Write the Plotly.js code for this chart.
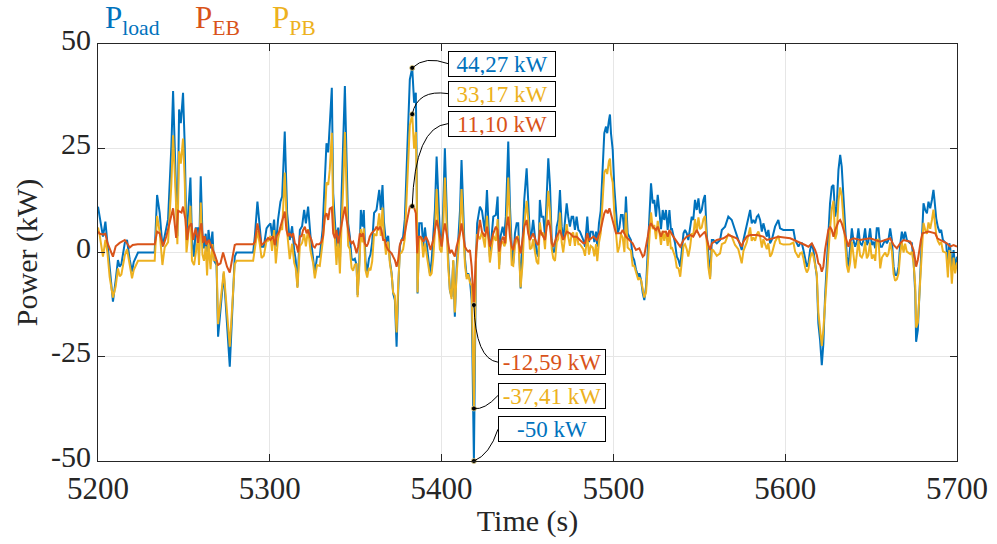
<!DOCTYPE html>
<html>
<head>
<meta charset="utf-8">
<script src="https://cdn.plot.ly/plotly-3.0.1.min.js"></script>
<style>html,body{margin:0;padding:0;background:#fff;}#chart{width:997px;height:544px;}</style>
</head>
<body>
<div id="chart"></div>
<script>
// Time base (s) shared by P_load and P_PB
const tLoad = [
5200.0,5201.0,5202.9,5204.3,5205.5,5206.8,5208.7,5210.3,5211.6,5212.6,
5213.6,5215.6,5216.9,5218.5,5219.8,5220.8,5223.3,5233.0,5234.4,5235.9,
5237.5,5238.8,5240.8,5242.7,5243.7,5245.3,5246.2,5247.2,5248.2,5249.5,
5250.5,5251.5,5252.4,5253.8,5254.7,5255.9,5256.9,5258.2,5258.8,5259.8,
5260.8,5261.7,5262.7,5263.5,5264.3,5265.5,5266.6,5267.4,5269.0,5269.9,
5273.2,5276.7,5279.6,5280.6,5290.3,5291.3,5292.8,5294.2,5295.2,5296.5,
5298.1,5299.0,5300.4,5301.3,5302.5,5303.5,5304.8,5306.2,5307.2,5308.7,
5310.1,5311.6,5313.0,5314.2,5315.1,5316.1,5317.5,5318.8,5320.0,5321.0,
5322.3,5323.7,5325.2,5326.2,5327.5,5329.1,5330.7,5332.0,5333.0,5334.0,
5334.9,5336.1,5336.9,5337.9,5338.8,5339.8,5340.8,5341.8,5342.7,5343.7,
5344.7,5345.6,5346.6,5347.6,5348.5,5349.5,5350.5,5351.1,5352.0,5353.0,
5354.0,5354.7,5355.7,5356.7,5357.7,5358.6,5359.6,5360.7,5362.1,5363.7,
5364.6,5365.6,5366.4,5367.6,5368.9,5369.9,5370.9,5371.8,5372.8,5373.8,
5374.7,5375.7,5376.7,5377.6,5378.6,5380.5,5381.5,5382.9,5384.0,5385.0,
5385.4,5386.0,5387.0,5388.4,5389.3,5390.3,5391.6,5393.2,5394.2,5395.1,
5396.1,5397.1,5398.0,5399.0,5400.0,5400.9,5401.9,5402.9,5403.8,5404.8,
5405.8,5406.8,5407.7,5408.7,5409.7,5410.7,5411.6,5412.6,5413.6,5414.6,
5415.5,5416.5,5417.5,5418.8,5420.0,5420.7,5422.3,5423.5,5425.2,5426.4,
5428.1,5429.1,5430.1,5431.6,5432.6,5433.5,5434.4,5435.5,5436.5,5437.4,
5438.8,5439.8,5440.8,5441.7,5442.7,5443.7,5444.6,5446.0,5447.2,5448.1,
5449.5,5450.4,5451.4,5452.4,5453.3,5454.3,5455.3,5456.3,5457.2,5458.2,
5459.2,5460.2,5461.2,5462.1,5463.1,5464.1,5465.0,5466.0,5467.0,5467.9,
5468.9,5469.9,5470.8,5471.8,5472.8,5473.7,5474.7,5475.7,5476.6,5477.6,
5478.6,5479.6,5480.5,5482.5,5483.5,5484.8,5485.8,5486.8,5488.0,5488.9,
5489.9,5490.6,5491.6,5492.6,5493.8,5494.7,5495.7,5496.4,5497.4,5498.0,
5498.6,5499.6,5500.5,5501.5,5502.5,5503.5,5504.4,5505.4,5506.4,5507.3,
5508.3,5509.2,5510.2,5511.2,5512.1,5513.1,5514.5,5515.1,5516.1,5517.1,
5518.0,5519.0,5520.0,5520.9,5521.9,5522.9,5523.8,5524.8,5525.8,5526.7,
5527.7,5528.7,5529.6,5530.6,5531.6,5532.6,5533.5,5534.0,5534.9,5535.9,
5536.9,5537.9,5538.9,5539.8,5540.8,5541.7,5542.7,5543.6,5544.6,5545.6,
5546.5,5547.5,5548.5,5549.5,5550.4,5551.4,5552.4,5553.3,5554.3,5555.3,
5556.3,5557.3,5558.2,5560.2,5562.1,5563.1,5565.0,5566.9,5568.9,5570.8,
5572.7,5574.7,5575.7,5577.6,5579.6,5580.5,5581.5,5582.5,5583.5,5584.4,
5585.4,5586.4,5587.3,5588.3,5589.3,5590.2,5591.2,5592.2,5593.1,5594.1,
5596.0,5597.0,5598.9,5600.9,5602.9,5604.8,5605.8,5606.7,5607.7,5608.7,
5609.7,5610.6,5611.6,5612.6,5613.5,5614.5,5615.5,5616.4,5617.4,5618.4,
5619.3,5620.3,5621.3,5622.2,5623.2,5624.2,5625.1,5626.1,5627.1,5628.1,
5629.1,5630.0,5631.0,5632.0,5632.9,5633.9,5634.9,5635.9,5636.8,5637.8,
5638.8,5639.7,5640.7,5641.7,5642.6,5643.6,5644.6,5645.6,5646.5,5647.5,
5648.4,5649.4,5650.4,5651.4,5652.4,5653.3,5654.3,5655.3,5656.3,5657.2,
5658.2,5659.2,5660.1,5661.1,5662.1,5663.1,5664.0,5665.0,5666.0,5666.9,
5667.9,5668.9,5669.8,5670.8,5672.8,5673.7,5674.7,5675.7,5676.2,5677.2,
5678.0,5679.0,5679.9,5680.5,5681.5,5682.5,5683.4,5684.4,5685.4,5686.3,
5686.9,5687.9,5688.8,5689.8,5690.8,5691.8,5692.7,5693.7,5694.7,5695.5,
5696.0,5697.0,5698.0,5698.9,5700.0
];
// P_load (kW)
const pLoad = [
11,8.6,3.8,7.4,2.3,-4.9,-11.8,-6.6,-1.8,-3.4,
-2.8,2.3,3.0,-1.8,-4.6,-2.3,0,0,13.8,9.5,
1.4,3.9,8,25.4,38.7,16.5,3.9,34.3,31,38.3,
25.4,3,8,18,3,-1,5.8,5.8,-1,18.3,
4.5,1,4.5,-2,5.4,1,5,-1.8,-3,-20.2,
-5,-27.4,-1,0,0,3.9,12.2,5.8,1.4,1.4,
5.8,6.3,7,3.9,7.9,1.4,7.9,12.2,13.4,29,
9.4,3,6.3,0.5,-1.8,-8.2,5.4,6.3,10.2,7,
11,3.9,-1,-5,-1,-1,5.4,16.8,26.2,24,
30.3,39.5,14.2,7,1.4,6,-2.6,14,24,39.9,
22.2,7,3.8,-1.5,-1.8,-1.5,-3,-10.2,-3,10.2,
6.2,10.2,-2,-4.6,-1.5,-0.5,2.5,9.5,10.2,15,
10.2,16.2,7.5,2.5,4,-2,-5,-9.8,-11.4,-22.6,
-9.8,1.5,3,3.8,8,30,41.5,44.27,35.9,38.3,
25,-9.8,7,7,1.4,6,1.4,-5,-2,3,
10.2,23,13,4.6,1.4,10.2,25,9.4,-1,-9,
-10.6,-2,-15.4,-4,4,10,22.2,7.5,-1.5,-5.8,
-5,-6.6,-11.4,-50,-2,7,11,10,5,15,
-1,3.8,8.6,9,13.4,-3,4,6.2,4,8.6,
26.6,11,1.5,-2.6,4.6,7,7,-8.6,1.5,12.6,
20.2,12.6,3.8,4.6,7.8,3.8,0,-1,12.6,8.6,
8.6,3.8,14,22.6,16,3,0,0.5,6.2,7.8,
15,6.2,3,7,11.8,8.6,6.2,8.6,8.6,5.4,
8.6,5.4,5,3,1.4,8.6,2.5,5,5,2.5,
5,1.4,7,10,20.6,28.6,30.2,28.6,31.7,33.1,
28.6,24.6,15.8,10,4.6,6,9,9,4.6,13.4,
4.6,3.8,3,-1,-1.8,-4,-5.8,-5,-6.6,-9.8,
-11.4,-8.2,0.6,9.8,16.6,11.8,12.6,8.6,13.8,10.2,
5.6,10.2,7.8,10.2,5.4,10.2,5.4,5.8,3.8,2.2,
-1,-1.8,-3.4,0.6,4.6,5.4,4.6,3,5.4,8.6,
7.8,12.6,10.2,13,9.4,10.2,12.6,13.8,4.6,-1.8,
-5.8,3,3,2.2,3,5.4,6.2,8.6,7.8,5.4,
3,0.6,3,6.2,10.2,7,7.8,7,8.6,9,
7.8,5,7,5.4,3.8,5.4,2.2,3,4.6,6.2,
7.8,5.8,5.4,5.4,5.4,5.4,3,2.2,1.4,2.2,
2.2,0.6,-1.8,-3.4,-2.6,0.6,2.2,0.6,-2.6,-5.8,
-17,-21,-27,-22,-10.6,-2.6,5,11.8,15.8,16.2,
8.6,11,19.8,23.4,20.6,13.4,7,-1,-3.4,0.6,
5.8,3,1.4,2.6,5.8,2.2,1.8,3,5.8,1.8,
2.6,5.8,1.8,2.6,1,5.8,5.8,1.4,1.4,2.2,
3,2.2,3,5.8,3,-3.4,-5.4,-5.4,-3.4,1.8,
5,3,5,3,2.2,2.2,-1.8,-9.8,-21.4,-18.6,
-9.8,-1.8,6.2,11.8,10.2,9.4,12.2,10.6,12.6,15,
12.6,8.2,6.2,5,5.4,3,2.6,2.2,-3.4,2.2,
1.4,-4.2,0.6,-3.4,-1
];
// P_PB (kW), same time base
const pPB = [
6,4.1,-1,3,0,-5.9,-10.8,-8.1,-3.8,-5.7,
-5.3,-0.7,0.8,-3,-6.2,-4.2,-2,-2,8.8,4.9,
-3,1.2,2.5,16.4,28.1,13,2,24.3,21.3,27.3,
16.9,0,3.5,11.2,-2,-3,0,3.5,-3,12,
-0.5,-2,1.5,-5.5,2.6,-4,2,-1.8,-2,-17.2,
-4.5,-22.6,-2.8,-2,-2,1.4,5.2,1.9,-1.3,-0.8,
2.8,2.8,4,0.4,5.4,-2.6,3.3,6,5.4,19.2,
4.9,-1.6,2.1,-2.5,-3.8,-8.5,1.5,2.3,4.4,1.5,
5.6,0.4,-2.5,-6.2,-3,-3.2,2.2,8.2,16.8,16.2,
19.8,28.7,9.6,3.6,-3,3.8,-5,7,15.4,28.9,
14.4,1.6,0.8,-3.7,-4.4,-2.9,-2.8,-10.7,-4.4,5.6,
2.4,5.8,-4.2,-6,-3.7,-4.3,-2.1,4.5,4,9.4,
4,10.8,4.5,-0.5,2.6,-2.6,-5.2,-9.6,-10.4,-19.2,
-8,-0.3,0,0.8,3.4,20.6,30.5,33.17,24.9,28.9,
20,-9.6,3.2,3.4,-1.2,2.2,-1.2,-5.6,-5,-1.5,
4.8,15.2,6.8,0.8,0,5.6,18,4.8,-3.2,-8.8,
-11.2,-1.8,-14.4,-5.4,1,5.4,15.2,3.7,-2.9,-6.4,
-5.2,-7.2,-8,-37.41,-2,4.4,3.2,5,1.2,8.8,
-2.4,0.8,4,2.8,8,-4,2,2.7,1.5,2.4,
18,7.2,-3,-3.2,1.6,3.2,4,-8.4,-2.3,6.4,
12.4,8,0.8,1.1,3.2,0.3,-2.2,-2.8,7.2,4.1,
4.8,0.8,7.8,14.8,9.8,0.8,-1.4,-2,2.4,3.3,
9.6,2.4,0,3,6.8,3.8,1.6,4.4,4.8,1.6,
4.8,2,2,0.8,-0.8,4,-0.5,1.6,1.2,-0.9,
2,-2.1,2.4,4.6,12.8,19.2,20,18.8,21.9,22.5,
18.8,16.8,9.6,5.4,0,1.4,4.4,3.6,0.1,9.6,
1.2,0.8,0.4,-3.2,-3.2,-4.6,-6.6,-6,-6.6,-8.8,
-10.8,-9.6,-3.2,3.6,9.6,5.6,6.6,3.2,7.6,5.2,
1.8,5.2,2.8,5.2,1.6,4.8,0.8,1.3,0,-1,
-3.6,-3.8,-5.8,-1.6,1.6,2,0.8,-1,1.2,4.6,
4,8,4.8,8.4,5.6,6,8,8.8,1.6,-3.6,
-6.4,0.8,0.5,-0.8,-0.2,2,2.4,4.4,3.8,1.8,
0.8,-2.6,0.4,2.4,6,2.8,3.6,2.8,4.4,5,
3.8,1.2,3.2,2,0.8,2.2,-1,-0.3,1.2,2.6,
4,2.2,1.9,2,2,2.4,0.2,-0.4,-1.2,-0.2,
0,-1.4,-3.6,-4.8,-4,-1.4,0,-0.8,-3.2,-5.2,
-14.4,-18,-22.4,-18.6,-11.2,-5.6,-0.4,5.6,10.4,12.4,
3.2,4.6,12.4,15.6,13.6,8,3.2,-3.2,-4.8,-2.4,
2.6,-0.4,-3.8,-0.4,2.8,-0.8,-1.2,-0.1,2.6,-1.4,
-0.7,2.4,-1.5,-0.5,-2,3,3.1,-3.8,-1.2,-0.6,
0,-1,-0.3,2.4,0.2,-5.2,-6.8,-6.4,-5,-0.4,
2.4,0,2.1,0.2,-0.4,0.2,-2.4,-8,-18,-16.8,
-10.4,-4.8,1.6,7.1,5.4,4.5,7.2,5.7,7.8,10.3,
8,4.4,2.8,2,2.5,0.3,0.1,-0.1,-6,0.6,
0,-7.5,-1.2,-5,-2.4
];
// P_EB time base (s) and values (kW)
const tEB = [
5200,5201,5202.9,5204.3,5205.5,5206.8,5208.7,5210.3,5212.6,5215.6,
5218.5,5220.2,5223.1,5233.0,5234.4,5235.9,5237.9,5239.8,5241.7,5243.7,
5245.5,5246.6,5248.6,5249.5,5250.9,5251.8,5253.0,5254.4,5255.3,5256.9,
5258.2,5259.2,5260.2,5261.2,5262.1,5263.1,5264.5,5266.0,5268.0,5269.9,
5271.3,5272.8,5275.1,5276.7,5279.6,5280.6,5290.3,5291.3,5292.8,5294.2,
5295.2,5296.5,5298.1,5299.0,5300.4,5301.9,5302.9,5303.9,5305.4,5306.8,
5307.7,5308.7,5309.7,5310.7,5311.6,5312.6,5313.6,5314.6,5315.5,5316.5,
5317.5,5318.5,5319.4,5320.4,5321.4,5322.3,5323.3,5324.3,5325.2,5326.2,
5327.2,5328.7,5330.1,5331.0,5332.0,5333.0,5334.0,5334.9,5336.1,5336.9,
5337.9,5338.8,5339.8,5340.8,5341.8,5342.7,5343.7,5344.7,5345.6,5346.6,
5347.6,5348.5,5349.5,5350.5,5351.4,5352.4,5353.3,5354.3,5355.3,5356.3,
5357.2,5358.2,5359.2,5360.2,5361.1,5362.1,5363.1,5364.1,5365.0,5366.0,
5367.0,5367.9,5368.9,5369.9,5370.9,5371.8,5372.8,5373.8,5374.7,5375.7,
5376.7,5377.6,5378.6,5379.6,5380.5,5381.5,5382.9,5383.8,5385.0,5385.8,
5386.6,5387.8,5389.3,5390.9,5392.2,5393.6,5395.1,5396.1,5397.1,5398.0,
5399.0,5400.0,5400.9,5401.9,5402.9,5403.8,5404.8,5405.8,5406.8,5407.7,
5408.7,5409.7,5410.7,5411.6,5412.6,5413.6,5414.6,5415.5,5416.5,5417.5,
5418.8,5420.0,5420.7,5422.3,5423.5,5425.2,5426.4,5428.1,5429.1,5430.1,
5431.6,5432.6,5433.5,5434.9,5435.9,5436.9,5437.8,5438.8,5439.8,5440.8,
5441.7,5442.7,5443.7,5444.6,5446.0,5447.2,5448.1,5449.5,5450.4,5451.4,
5453.3,5455.3,5456.3,5457.2,5459.2,5460.2,5461.2,5462.1,5463.1,5464.1,
5465.0,5467.0,5468.9,5469.9,5470.8,5472.8,5474.7,5476.6,5478.6,5480.5,
5482.5,5483.5,5484.8,5485.8,5488.4,5490.4,5491.6,5492.6,5493.8,5494.7,
5495.7,5496.7,5497.7,5498.6,5499.6,5500.5,5501.5,5504.4,5505.4,5507.3,
5509.2,5511.2,5512.1,5513.1,5515.1,5517.1,5518.0,5519.0,5520.0,5520.9,
5521.9,5522.9,5524.8,5525.8,5527.7,5528.7,5530.6,5531.6,5532.6,5534.9,
5536.9,5538.9,5540.8,5542.7,5544.6,5546.5,5548.5,5550.4,5553.3,5554.3,
5555.3,5556.3,5557.3,5560.2,5564.1,5567.0,5569.9,5571.8,5573.7,5574.7,
5575.7,5577.6,5579.6,5583.5,5587.3,5589.3,5593.1,5596.0,5602.9,5607.7,
5611.6,5613.5,5615.5,5617.4,5618.4,5619.3,5620.3,5621.3,5622.2,5623.2,
5624.2,5625.1,5626.1,5627.1,5628.1,5629.1,5631.0,5632.0,5632.9,5633.9,
5634.9,5635.9,5636.8,5637.8,5639.7,5643.6,5649.4,5655.3,5661.1,5663.1,
5665.0,5666.9,5668.9,5672.8,5674.7,5675.7,5676.2,5677.2,5678.0,5679.0,
5679.9,5683.4,5687.3,5688.6,5690.2,5694.1,5696.0,5698.0,5700.0
];
const pEB = [
5,4.5,4.3,4.5,2.3,1,-1,1.5,2.3,3,
1.2,1.8,2,2,5,4.6,1.5,3.9,7,10.6,
3.5,10,9.6,11,7.9,3,6.2,7,3,5.8,
2.3,5.4,7,2.3,3.9,1.9,3,1.5,-0.5,-3,
-2.6,0,-3.4,-4.8,1.8,2,2,2.5,7,3.9,
1.8,2.2,3,3.5,3,3.9,1.8,3.9,5,7,
8.6,9.8,5.4,3.9,4.6,3.9,4.6,2.2,1.8,0,
3.9,3.9,5.4,6.2,4.6,5.4,3.9,3,1.5,1.2,
2,2,2.5,3.9,8.6,9.4,7.8,10.5,10.8,4.6,
3.4,5.4,2.2,4.6,7,8.6,11,7.8,5.4,3,
2.2,2.6,1.4,-0.2,1.4,4.6,3.8,4.6,2.2,1.4,
2.2,3.8,4.6,5,5.4,6.2,5.4,6.2,5.4,3,
3,1.4,0.6,0.2,-0.2,-1,-1.8,-3.4,-1.8,1.8,
3,3,4.6,7,9.4,11,11.10,11,9.4,-0.2,
3.8,3.8,2.6,3.8,2.6,0.6,3,5.4,7.8,6.2,
3.8,1.4,4.6,7,4.6,2.2,-0.2,0.6,-0.2,-1,
1.4,3,4.6,7,3.8,1.4,0.6,0.2,0.6,-3.4,
-12.59,0,2.6,7.8,5,3.8,6.2,1.4,3,4.6,
6.2,5.4,0.2,3,3.8,2.2,6.2,8.6,3.8,1.4,
0.6,3,3.8,3,-0.2,3.8,6.2,7.8,4.6,3,
4.6,2.2,1.8,5.4,3.8,3,6.2,7.8,6.2,2.2,
1.4,3.8,5.4,3.8,3,5,4.6,3.8,3.8,3,
2.2,2.2,4.6,3,3.8,3,4.6,5.4,7.8,9.4,
10.2,9.4,10.6,9,7.8,6.2,4.6,4.6,5.4,3.8,
3,2.2,1.4,0.6,1,-1,-0.6,1.4,3.8,6.2,
7,6.2,5.4,6.2,3.8,5,5,3.8,5.4,3.8,
2.6,1.4,3,3.8,4.2,3.8,5.4,3.8,5,3,
1.8,0.6,2.2,3,3.4,4.2,3.8,3.4,2.2,1.4,
2.6,3.8,4.2,4.2,3.8,3,3.4,3.8,3.4,2.6,
1.8,1.4,2.2,0.6,-0.6,-2.6,-3,-4.6,-3.4,0.6,
3,5.4,6.2,5.4,3.8,5.4,7.4,7.8,7,5.4,
3.8,2.2,1.4,3,3.4,3,3.4,2.6,3.4,1.8,
1,2.2,3,2.6,0.6,-1.8,-3.4,-1.8,0.6,3,
4.6,5,4.6,3.4,3,2.2,1.4,1.8,1.4
];

// Annotated extremes
const noteLabels = ["44,27 kW", "33,17 kW", "11,10 kW", "-12,59 kW", "-37,41 kW", "-50 kW"];

const C_LOAD = "#0072BD", C_EB = "#D95319", C_PB = "#EDB120";
const FONT = "'Liberation Serif', 'DejaVu Serif', serif";
const TXT = "#262626";

// locate the annotated samples from the data itself
const iMax = pLoad.indexOf(Math.max.apply(null, pLoad));
const iMin = pLoad.indexOf(Math.min.apply(null, pLoad));
const tMax = tLoad[iMax], tMin = tLoad[iMin];
const ebMax = pEB[tEB.indexOf(tMax)], ebMin = pEB[tEB.indexOf(tMin)];
const ptsX = [tMax, tMax, tMax, tMin, tMin, tMin];
const ptsY = [pLoad[iMax], pPB[iMax], ebMax, ebMin, pPB[iMin], pLoad[iMin]];
const noteColors = [C_LOAD, C_PB, C_EB, C_EB, C_PB, C_LOAD];

const traces = [
  {x: tLoad, y: pLoad, type: "scatter", mode: "lines", line: {color: C_LOAD, width: 2}, hoverinfo: "skip"},
  {x: tLoad, y: pPB, type: "scatter", mode: "lines", line: {color: C_PB, width: 2}, hoverinfo: "skip"},
  {x: tEB, y: pEB, type: "scatter", mode: "lines", line: {color: C_EB, width: 2}, hoverinfo: "skip"},
  {x: ptsX, y: ptsY, type: "scatter", mode: "markers", marker: {color: "#000", size: 5, line: {color: "#e8d48a", width: 0.8}}, hoverinfo: "skip", cliponaxis: false}
];

// box anchor positions (data coords) for labels
const boxX = [5403.7, 5403.7, 5403.7, 5432.8, 5432.8, 5432.8];
const boxY = [45.3, 38.1, 30.9, -26.3, -34.3, -42.4];
const ctrl = [[5390.5, 47.3], [5386.0, 39.2], [5384.4, 30.2], [5419.8, -25.6], [5425.0, -37.8], [5428.0, -48.5]];

const shapes = [];
const annotations = [];
for (let k = 0; k < 6; k++) {
  shapes.push({
    type: "path", xref: "x", yref: "y",
    path: "M " + ptsX[k] + "," + ptsY[k] + " Q " + ctrl[k][0] + "," + ctrl[k][1] + " " + boxX[k] + "," + boxY[k],
    line: {color: "#000", width: 1}
  });
  annotations.push({
    x: boxX[k], y: boxY[k], xref: "x", yref: "y", xanchor: "left", yanchor: "middle",
    text: noteLabels[k], showarrow: false, align: "center",
    font: {family: FONT, size: 23, color: noteColors[k]},
    bgcolor: "#fff", bordercolor: "#000", borderwidth: 1, borderpad: 1, width: 104, height: 22
  });
}
// legend as coloured text
const legendItems = [["load", C_LOAD, 0.006], ["EB", C_EB, 0.111], ["PB", C_PB, 0.2]];
legendItems.forEach(function (it) {
  annotations.push({
    xref: "paper", yref: "paper", x: it[2], y: 1.005, xanchor: "left", yanchor: "bottom",
    text: "P<sub>" + it[0] + "</sub>", showarrow: false,
    font: {family: FONT, size: 31, color: it[1]}
  });
});

const layout = {
  width: 997, height: 544,
  margin: {l: 98, r: 40, t: 44, b: 83},
  paper_bgcolor: "#fff", plot_bgcolor: "#fff",
  showlegend: false,
  font: {family: FONT, color: TXT},
  xaxis: {
    range: [5200, 5700], tickvals: [5200, 5300, 5400, 5500, 5600, 5700],
    showgrid: true, gridcolor: "#e6e6e6", gridwidth: 1, zeroline: false,
    showline: true, mirror: "ticks", linecolor: TXT, linewidth: 1,
    ticks: "inside", ticklen: 7, tickcolor: TXT, tickwidth: 1,
    tickfont: {family: FONT, size: 31, color: TXT},
    title: {text: "Time (s)", font: {family: FONT, size: 30, color: TXT}, standoff: 4}
  },
  yaxis: {
    range: [-50, 50], tickvals: [-50, -25, 0, 25, 50], ticktext: ["-50", "-25", "0", "25", "50"],
    showgrid: true, gridcolor: "#e6e6e6", gridwidth: 1, zeroline: false,
    showline: true, mirror: "ticks", linecolor: TXT, linewidth: 1,
    ticks: "inside", ticklen: 7, tickcolor: TXT, tickwidth: 1, ticklabelshift: -5,
    tickfont: {family: FONT, size: 30, color: TXT},
    title: {text: "Power (kW)", font: {family: FONT, size: 30, color: TXT}, standoff: 4}
  },
  shapes: shapes,
  annotations: annotations
};

Plotly.newPlot("chart", traces, layout, {displayModeBar: false, staticPlot: true});
</script>
</body>
</html>
